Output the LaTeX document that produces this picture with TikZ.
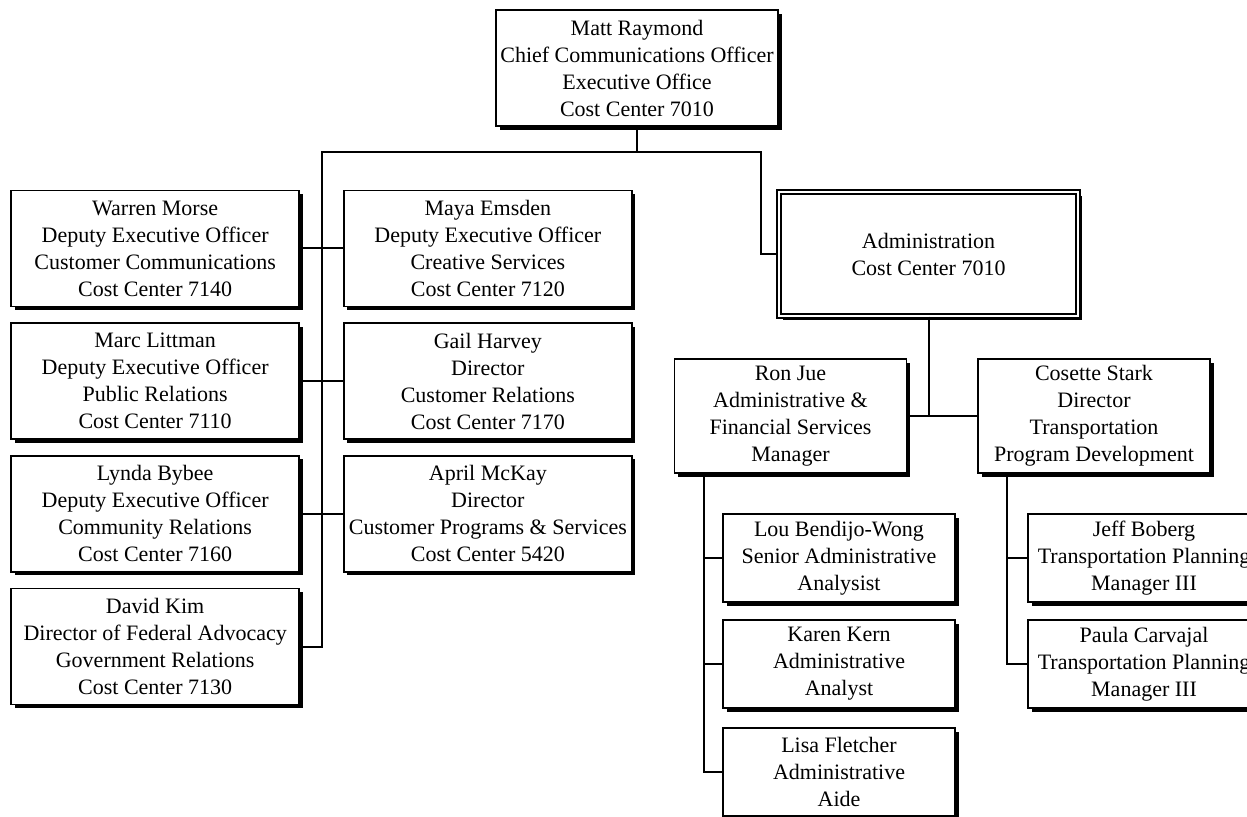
\documentclass[tikz,border=0pt]{standalone}
\usepackage{fontspec}
\setmainfont{Liberation Serif}
\usetikzlibrary{positioning, shadows}

\tikzset{
  post/.style={draw, line width=0.85pt, fill=white, align=center, inner sep=2pt,
    font=\fontsize{11}{13.5}\selectfont,
    drop shadow={shadow xshift=1.8pt, shadow yshift=-1.8pt, fill=black, opacity=1}},
  wide/.style={post, minimum width=144pt, minimum height=58pt},
  head/.style={post, minimum width=116pt, minimum height=57pt},
  staff/.style={post, minimum width=116pt, minimum height=44pt},
  link/.style={line width=1pt},
}

\begin{document}
\begin{tikzpicture}[x=0.5pt, y=-0.5pt]
  \useasboundingbox (0,0) rectangle (1247,817);
  \clip (0,0) rectangle (1247,817);

  \node[post, minimum width=141pt, minimum height=58pt] (raymond) at (637,68)
    {Matt Raymond\\Chief Communications Officer\\Executive Office\\Cost Center 7010};

  \matrix[column sep=21.5pt, row sep=7.5pt] at (321.5,447.5) {
    \node[wide] (morse) {Warren Morse\\Deputy Executive Officer\\Customer Communications\\Cost Center 7140}; &
    \node[wide] (emsden) {Maya Emsden\\Deputy Executive Officer\\Creative Services\\Cost Center 7120}; \\
    \node[wide] (littman) {Marc Littman\\Deputy Executive Officer\\Public Relations\\Cost Center 7110}; &
    \node[wide] (harvey) {Gail Harvey\\Director\\Customer Relations\\Cost Center 7170}; \\
    \node[wide] (bybee) {Lynda Bybee\\Deputy Executive Officer\\Community Relations\\Cost Center 7160}; &
    \node[wide] (mckay) {April McKay\\Director\\Customer Programs \& Services\\Cost Center 5420}; \\
    \node[wide] (kim) {David Kim\\Director of Federal Advocacy\\Government Relations\\Cost Center 7130}; & \\
  };

  \node[post, double, line width=0.6pt, double distance=1.4pt,
    minimum width=149.5pt, minimum height=62pt] (admin) at (928.5,254)
    {Administration\\Cost Center 7010};

  \node[head] (jue) at (790.5,416) {Ron Jue\\Administrative \&\\Financial Services\\Manager};
  \node[head] (stark) at (1094,416) {Cosette Stark\\Director\\Transportation\\Program Development};

  \node[staff] (bendijo) at (839,558) {Lou Bendijo-Wong\\Senior Administrative\\Analysist};
  \node[staff] (kern) at (839,664) {Karen Kern\\Administrative\\Analyst};
  \node[staff] (fletcher) at (839,772) {Lisa Fletcher\\Administrative\\Aide};

  \node[staff] (boberg) at (1144,558) {Jeff Boberg\\Transportation Planning\\Manager III};
  \node[staff] (carvajal) at (1144,664) {Paula Carvajal\\Transportation Planning\\Manager III};

  % top bus and the trunk to the left
  \coordinate (busleft) at (322,152);
  \coordinate (busright) at (761,152);
  \draw[link] (raymond) -- (raymond |- busleft);
  \draw[link] (kim.east) -| (busleft) -- (busright) |- (admin.west);
  \draw[link] (morse) -- (emsden);
  \draw[link] (littman) -- (harvey);
  \draw[link] (bybee) -- (mckay);

  % administration
  \draw[link] (admin) -- (admin |- jue.east);
  \draw[link] (jue) -- (stark);

  \coordinate (juedrop) at ([xshift=15pt]jue.south west);
  \coordinate (starkdrop) at ([xshift=15pt]stark.south west);
  \draw[link] (juedrop) |- (fletcher.west);
  \draw[link] (bendijo.west) -- (bendijo.west -| juedrop);
  \draw[link] (kern.west) -- (kern.west -| juedrop);
  \draw[link] (starkdrop) |- (carvajal.west);
  \draw[link] (boberg.west) -- (boberg.west -| starkdrop);
\end{tikzpicture}
\end{document}
